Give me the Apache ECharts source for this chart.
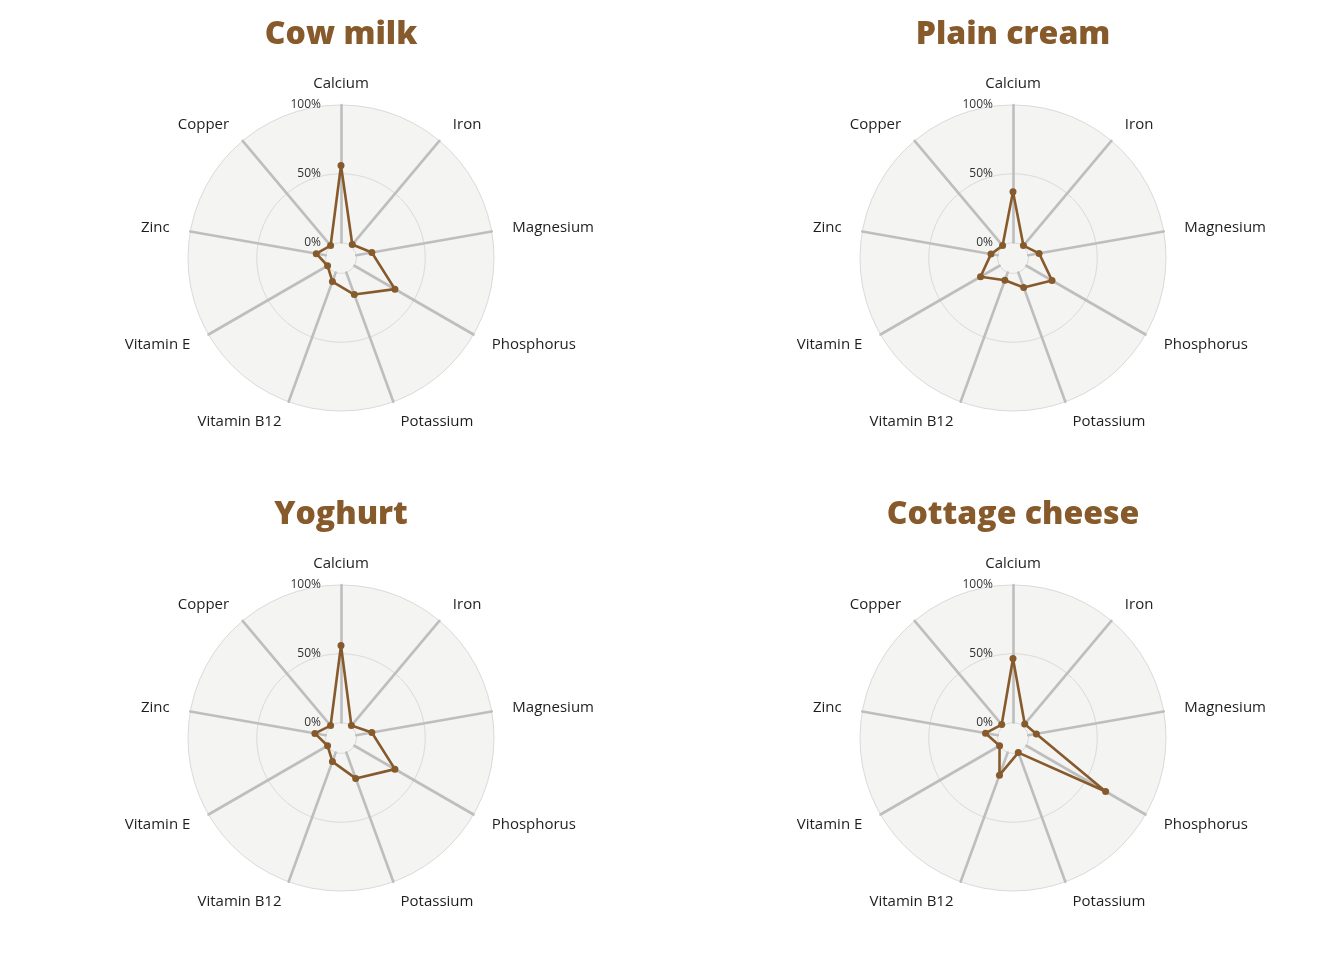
<!DOCTYPE html>
<html>
<head>
<meta charset="utf-8">
<script src="https://cdn.jsdelivr.net/npm/echarts@6/dist/echarts.min.js"></script>
<style>
html,body{margin:0;padding:0;background:#fff;}
#chart{width:1344px;height:960px;}
</style>
</head>
<body>
<div id="chart"></div>
<script>
const nutrients = ['Calcium','Iron','Magnesium','Phosphorus','Potassium','Vitamin B12','Vitamin E','Zinc','Copper'];
const titles = ['Cow milk','Plain cream','Yoghurt','Cottage cheese'];
const cowMilk = [56, 1.5, 11.5, 34, 17, 7, 0, 7, 0.5];
const plainCream = [37, 0.5, 8, 21.5, 11.5, 6, 16, 5, 0.5];
const yoghurt = [56, 0.5, 11.5, 34, 20, 7, 0, 8, 0.5];
const cottageCheese = [46.5, 2, 6, 66.5, 0, 17.5, 0, 9, 1.5];
const tickLabels = ['0%','50%','100%'];

const seriesValues = [cowMilk, plainCream, yoghurt, cottageCheese];
const centers = [[341,258],[1013,258],[341,738],[1013,738]];
const titleTops = [14, 494];
const brown = '#875a2b';
const nameFont = '"Open Sans", Lato, sans-serif';
const titleFont = '"Open Sans", Lato, sans-serif';

// ECharts radar runs counter-clockwise; the reference runs clockwise,
// so the indicators (and values) are laid out in order 0, n-1, n-2, ..., 1.
const order = nutrients.map((_, i) => (i === 0 ? 0 : nutrients.length - i));

const chart = echarts.init(document.getElementById('chart'));

const holeRadars = centers.map(c => ({
  center: c,
  radius: 15.5,
  shape: 'circle',
  splitNumber: 1,
  startAngle: 90,
  indicator: order.map(k => ({name: nutrients[k], min: 0, max: 100})),
  axisName: {show: false},
  axisLine: {show: false},
  axisTick: {show: false},
  axisLabel: {show: false},
  splitLine: {show: false},
  splitArea: {show: true, areaStyle: {color: ['#f4f4f3']}}
}));

const mainRadars = centers.map(c => ({
  center: c,
  radius: [15.5, 153],
  shape: 'circle',
  splitNumber: 2,
  startAngle: 90,
  indicator: order.map((k, i) => {
    const ind = {name: nutrients[k], min: 0, max: 100};
    if (i === 0) {
      ind.axisLabel = {
        show: true,
        formatter: v => tickLabels[Math.round(v / 50)],
        color: '#333',
        fontSize: 12,
        fontFamily: nameFont,
        margin: 20
      };
    }
    return ind;
  }),
  nameGap: 21,
  axisName: {color: '#1e1e1e', fontSize: 15, fontFamily: nameFont, verticalAlign: 'middle'},
  axisLine: {show: true, lineStyle: {color: '#bebebe', width: 2.6}},
  axisTick: {show: false},
  axisLabel: {show: false},
  splitLine: {show: true, lineStyle: {color: '#dadada', width: 1}},
  splitArea: {show: true, areaStyle: {color: ['#f4f4f3', '#f4f4f3']}}
}));

const option = {
  backgroundColor: '#fff',
  animation: false,
  title: titles.map((t, i) => ({
    text: t,
    left: centers[i][0] - 5,
    top: titleTops[Math.floor(i / 2)],
    textAlign: 'center',
    textStyle: {color: brown, fontSize: 32, fontWeight: 800, fontFamily: titleFont}
  })),
  radar: holeRadars.concat(mainRadars),
  series: seriesValues.map((vals, i) => ({
    type: 'radar',
    radarIndex: 4 + i,
    symbol: 'circle',
    symbolSize: 7,
    lineStyle: {color: brown, width: 2.6},
    itemStyle: {color: brown},
    data: [{value: order.map(k => vals[k]), name: titles[i]}]
  }))
};
chart.setOption(option);
</script>
</body>
</html>
